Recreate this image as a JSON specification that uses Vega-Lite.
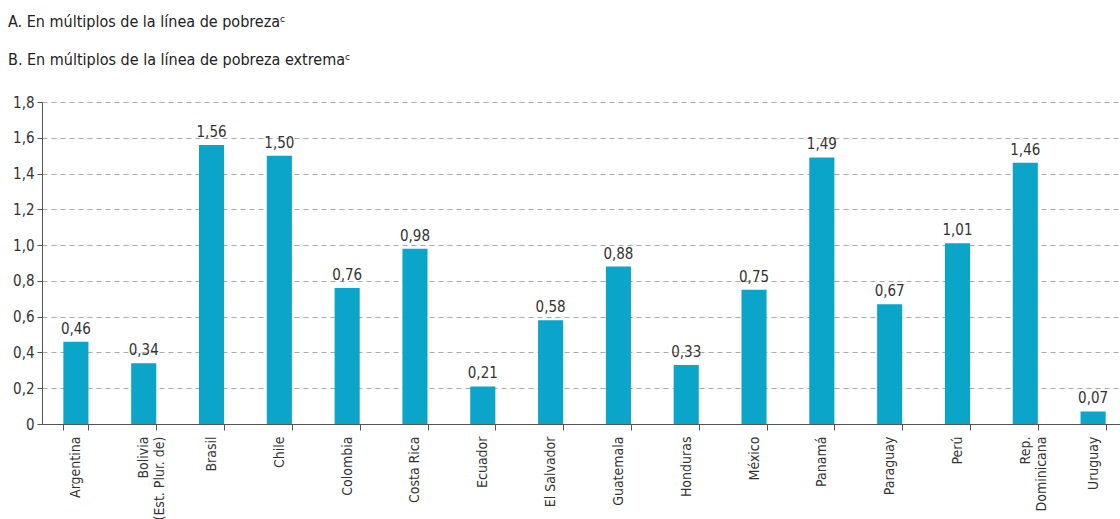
{
  "$schema": "https://vega.github.io/schema/vega-lite/v6.json",
  "autosize": {"type": "none"},
  "width": 1085,
  "height": 322,
  "padding": {"left": 42, "top": 102, "right": 0, "bottom": 95},
  "background": "white",
  "config": {
    "locale": {"number": {"decimal": ",", "thousands": ".", "grouping": [3], "currency": ["", " €"]}},
    "font": "Liberation Sans Narrow, DejaVu Sans Condensed, Roboto",
    "view": {"stroke": null}
  },
  "title": {
    "text": ["A. En múltiplos de la línea de pobrezaᶜ", "B. En múltiplos de la línea de pobreza extremaᶜ"],
    "anchor": "start",
    "frame": "group",
    "dx": -34,
    "offset": 27,
    "fontSize": 16,
    "fontWeight": "normal",
    "color": "#222222",
    "lineHeight": 38
  },
  "data": {
    "values": [
      {"pais": "Argentina", "valor": 0.46},
      {"pais": "Bolivia|(Est. Plur. de)", "valor": 0.34},
      {"pais": "Brasil", "valor": 1.56},
      {"pais": "Chile", "valor": 1.50},
      {"pais": "Colombia", "valor": 0.76},
      {"pais": "Costa Rica", "valor": 0.98},
      {"pais": "Ecuador", "valor": 0.21},
      {"pais": "El Salvador", "valor": 0.58},
      {"pais": "Guatemala", "valor": 0.88},
      {"pais": "Honduras", "valor": 0.33},
      {"pais": "México", "valor": 0.75},
      {"pais": "Panamá", "valor": 1.49},
      {"pais": "Paraguay", "valor": 0.67},
      {"pais": "Perú", "valor": 1.01},
      {"pais": "Rep.|Dominicana", "valor": 1.46},
      {"pais": "Uruguay", "valor": 0.07}
    ]
  },
  "encoding": {
    "x": {
      "field": "pais",
      "type": "nominal",
      "sort": null,
      "scale": {"paddingInner": 0.63, "paddingOuter": 0.315},
      "axis": {
        "title": null,
        "labelAngle": -90,
        "labelAlign": "right",
        "labelBaseline": "middle",
        "labelExpr": "datum.value ? split(datum.value, '|') : ''",
        "labelFontSize": 14,
        "labelColor": "#333333",
        "labelPadding": 6,
        "labelLineHeight": 16,
        "tickBand": "extent",
        "tickSize": 6,
        "tickColor": "#555555",
        "domainColor": "#555555",
        "grid": false
      }
    },
    "y": {
      "field": "valor",
      "type": "quantitative",
      "scale": {"domain": [0, 1.8], "nice": false},
      "axis": {
        "title": null,
        "values": [0, 0.2, 0.4, 0.6, 0.8, 1.0, 1.2, 1.4, 1.6, 1.8],
        "labelExpr": "datum.value == 0 ? '0' : replace(format(datum.value, '.1f'), '.', ',')",
        "labelFontSize": 15,
        "labelColor": "#333333",
        "labelPadding": 3,
        "tickSize": 5,
        "tickColor": "#555555",
        "domainColor": "#555555",
        "grid": true,
        "gridDash": [5, 4],
        "gridColor": "#aaaaaa"
      }
    }
  },
  "layer": [
    {"mark": {"type": "bar", "color": "#0aa5c8"}},
    {
      "mark": {"type": "text", "baseline": "bottom", "dy": -5, "fontSize": 15, "color": "#333333"},
      "encoding": {"text": {"field": "valor", "type": "quantitative", "format": ".2f"}}
    }
  ]
}
